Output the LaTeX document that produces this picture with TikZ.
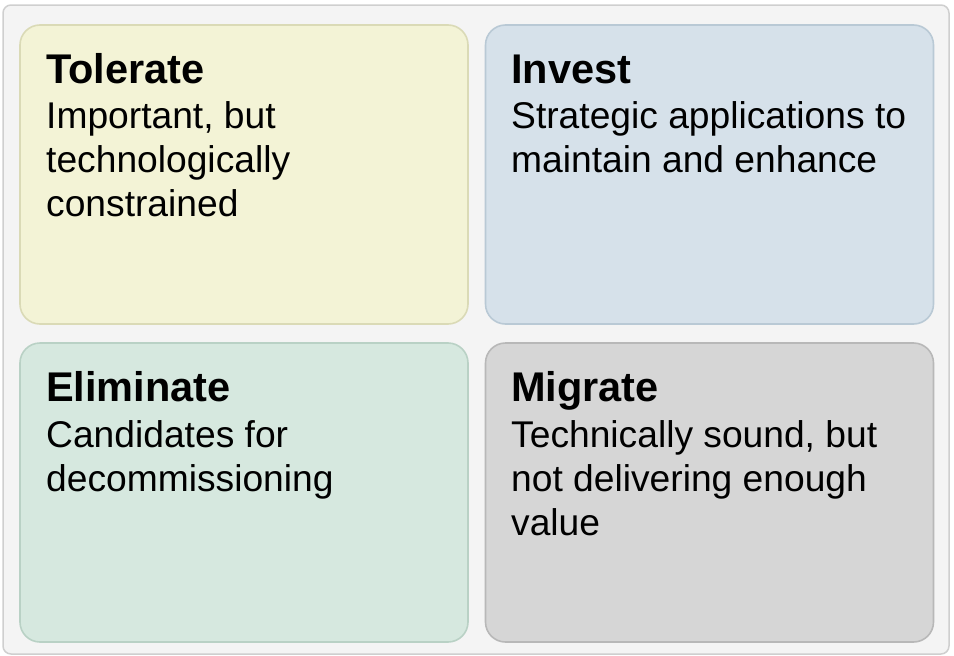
\documentclass[tikz,border=0pt]{standalone}
\usepackage{fontspec}
\setmainfont{Liberation Sans}
\definecolor{frameFill}{HTML}{F4F4F4}
\definecolor{frameLine}{HTML}{CFCFCF}
\definecolor{tolFill}{HTML}{F3F3D6}
\definecolor{tolLine}{HTML}{DADAB6}
\definecolor{invFill}{HTML}{D6E1EA}
\definecolor{invLine}{HTML}{B9C9D5}
\definecolor{elimFill}{HTML}{D6E8DF}
\definecolor{elimLine}{HTML}{B9D1C5}
\definecolor{migFill}{HTML}{D6D6D6}
\definecolor{migLine}{HTML}{B8B8B8}
\tikzset{
  quad/.style={rectangle, rounded corners=20pt, line width=1.6pt,
    minimum width=448pt, minimum height=299pt, inner sep=0pt},
  head/.style={anchor=base west, inner sep=0pt, font=\fontsize{41.5}{44}\selectfont\bfseries},
  % base of a multi-line caption is its last line
  body/.style={anchor=base west, inner sep=0pt, align=left, font=\fontsize{37.2}{44}\selectfont}
}
\begin{document}
\begin{tikzpicture}[x=1pt, y=-1pt]
  \useasboundingbox (0,0) rectangle (954,656);
  \draw[frameLine, fill=frameFill, line width=1.5pt, rounded corners=8pt] (3,5) rectangle (949,654);
  % the four quadrants, top row then bottom row
  \node[quad, fill=tolFill, draw=tolLine] (tolerate) at (244,174.5) {};
  \node[quad, fill=invFill, draw=invLine] (invest) at (709.5,174.5) {};
  \node[quad, fill=elimFill, draw=elimLine] (eliminate) at (244,492.5) {};
  \node[quad, fill=migFill, draw=migLine] (migrate) at (709.5,492.5) {};
  % titles and captions
  \node[head] (tolerateHead) at (46,83) {Tolerate};
  \node[body] (tolerateText) at (46,216) {Important, but\\technologically\\constrained};
  \node[head] (investHead) at (511,83) {Invest};
  \node[body] (investText) at (511,172) {Strategic applications to\\maintain and enhance};
  \node[head] (eliminateHead) at (46,401) {Eliminate};
  \node[body] (eliminateText) at (46,491) {Candidates for\\decommissioning};
  \node[head] (migrateHead) at (511,401) {Migrate};
  \node[body] (migrateText) at (511,535) {Technically sound, but\\not delivering enough\\value};
\end{tikzpicture}
\end{document}
